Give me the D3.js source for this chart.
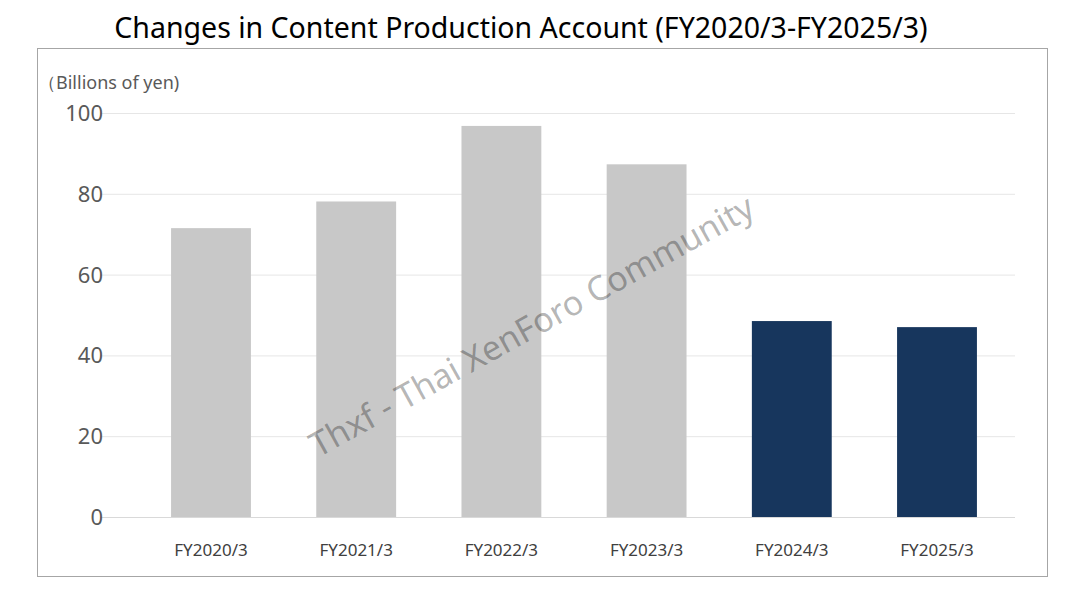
<!DOCTYPE html>
<html lang="en">
<head>
<meta charset="UTF-8">
<title>Changes in Content Production Account</title>
<script src="https://d3js.org/d3.v7.min.js"></script>
<style>
  body { margin: 0; background: #fff; }
  text { font-family: "Noto Sans", "Open Sans", sans-serif; }
</style>
</head>
<body>
<div id="chart"></div>
<script>
// chart data
const years = ["FY2020/3", "FY2021/3", "FY2022/3", "FY2023/3", "FY2024/3", "FY2025/3"];
const values = [71.5, 78.1, 96.8, 87.3, 48.5, 47.0];
const barColors = ["#c8c8c8", "#c8c8c8", "#c8c8c8", "#c8c8c8", "#17365d", "#17365d"];
const yTicks = [0, 20, 40, 60, 80, 100];

const W = 1066, H = 596;
const svg = d3.select("#chart").append("svg").attr("width", W).attr("height", H);

// outer frame
svg.append("rect").attr("x", 37.5).attr("y", 48.5).attr("width", 1010).attr("height", 528)
  .attr("fill", "none").attr("stroke", "#a6a6a6");

svg.append("text").attr("x", 521).attr("y", 38).attr("text-anchor", "middle")
  .attr("font-size", 28.5).attr("fill", "#000")
  .text("Changes in Content Production Account (FY2020/3-FY2025/3)");

svg.append("text").attr("x", 38).attr("y", 89).attr("font-size", 18).attr("fill", "#595959")
  .text("（Billions of yen)");

const x = d3.scaleBand().domain(years).range([138.4, 1009.6]).paddingInner(0.45).paddingOuter(0.225);
const y = d3.scaleLinear().domain([0, 100]).range([517, 113]);

// gridlines
svg.append("g").selectAll("line").data(yTicks).join("line")
  .attr("x1", 100).attr("x2", 1015)
  .attr("y1", d => y(d) + 0.5).attr("y2", d => y(d) + 0.5)
  .attr("stroke", d => d === 0 ? "#d9d9d9" : "#e6e6e6");

// y axis labels
svg.append("g").selectAll("text").data(yTicks).join("text")
  .attr("x", 103).attr("y", d => y(d) + 8).attr("text-anchor", "end")
  .attr("font-size", 22).attr("fill", "#595959").text(d => d);

// bars
svg.append("g").selectAll("rect").data(values).join("rect")
  .attr("x", (d, i) => x(years[i])).attr("width", x.bandwidth())
  .attr("y", d => y(d)).attr("height", d => y(0) - y(d))
  .attr("fill", (d, i) => barColors[i]);

// x labels
svg.append("g").selectAll("text").data(years).join("text")
  .attr("x", d => x(d) + x.bandwidth() / 2).attr("y", 556).attr("text-anchor", "middle")
  .attr("font-size", 17).attr("fill", "#404040").text(d => d);

// watermark
svg.append("text").attr("transform", "translate(318,458) rotate(-29)")
  .attr("font-size", 34).attr("fill", "#000").attr("fill-opacity", 0.3)
  .text("Thxf - Thai XenForo Community");
</script>
</body>
</html>
